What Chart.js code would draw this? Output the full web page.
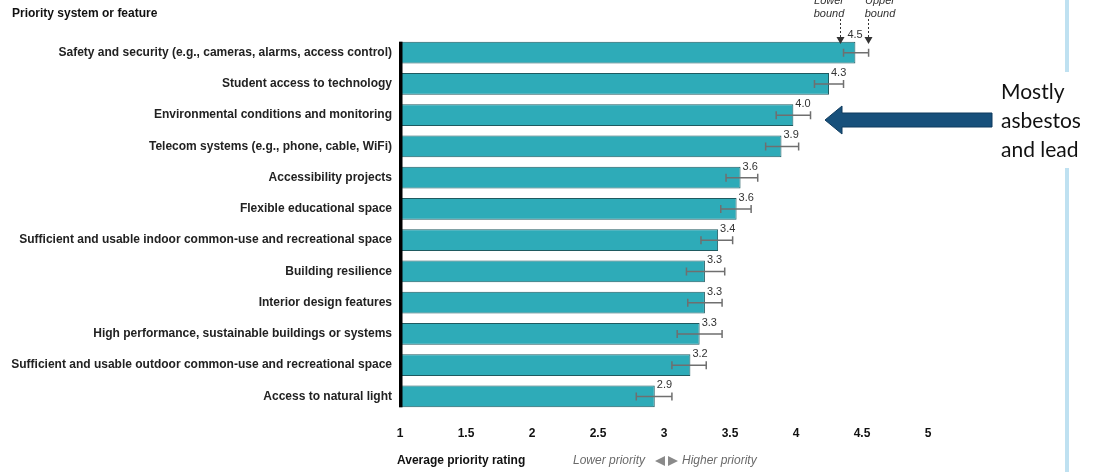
<!DOCTYPE html>
<html>
<head>
<meta charset="utf-8">
<script src="https://cdn.jsdelivr.net/npm/chart.js@4"></script>
<style>
  body { margin: 0; background: #fff; }
  #wrap { width: 1100px; height: 472px; position: relative; }
</style>
</head>
<body>
<div id="wrap"><canvas id="priorityChart" width="1100" height="472"></canvas></div>
<script>
// Priority features, top to bottom
const categories = [
  "Safety and security (e.g., cameras, alarms, access control)",
  "Student access to technology",
  "Environmental conditions and monitoring",
  "Telecom systems (e.g., phone, cable, WiFi)",
  "Accessibility projects",
  "Flexible educational space",
  "Sufficient and usable indoor common-use and recreational space",
  "Building resilience",
  "Interior design features",
  "High performance, sustainable buildings or systems",
  "Sufficient and usable outdoor common-use and recreational space",
  "Access to natural light",
];
const avgRating = [4.45, 4.25, 3.98, 3.89, 3.58, 3.55, 3.41, 3.31, 3.31, 3.27, 3.2, 2.93];
const lowerBound = [4.36, 4.14, 3.85, 3.77, 3.47, 3.43, 3.28, 3.17, 3.18, 3.1, 3.06, 2.79];
const upperBound = [4.55, 4.36, 4.11, 4.02, 3.71, 3.66, 3.52, 3.46, 3.44, 3.44, 3.32, 3.06];
const valueLabels = ["4.5", "4.3", "4.0", "3.9", "3.6", "3.6", "3.4", "3.3", "3.3", "3.3", "3.2", "2.9"];

const FONT = '"Liberation Sans", Arial, sans-serif';

// error bars, value labels, y axis line
const barExtras = {
  id: "barExtras",
  afterDatasetsDraw(chart) {
    const ctx = chart.ctx;
    const x = chart.scales.x;
    const bars = chart.getDatasetMeta(0).data;
    ctx.save();
    bars.forEach((bar, i) => {
      const y = bar.y;
      const x1 = x.getPixelForValue(lowerBound[i]);
      const x2 = x.getPixelForValue(upperBound[i]);
      ctx.strokeStyle = "#6f6f6f";
      ctx.lineWidth = 1.5;
      ctx.beginPath();
      ctx.moveTo(x1, y); ctx.lineTo(x2, y);
      ctx.moveTo(x1, y - 4); ctx.lineTo(x1, y + 4);
      ctx.moveTo(x2, y - 4); ctx.lineTo(x2, y + 4);
      ctx.stroke();

      ctx.fillStyle = "#333";
      ctx.font = "11px " + FONT;
      ctx.textAlign = "left";
      ctx.textBaseline = "middle";
      const top = y - bar.height / 2;
      // first label sits between the bound markers
      if (i === 0) ctx.fillText(valueLabels[i], bar.x - 8, top - 7);
      else ctx.fillText(valueLabels[i], bar.x + 2, top);
    });
    const first = bars[0], last = bars[bars.length - 1];
    ctx.fillStyle = "#000";
    ctx.fillRect(chart.chartArea.left - 1, first.y - first.height / 2, 3.5,
      last.y + last.height / 2 - (first.y - first.height / 2));
    ctx.restore();
  },
  afterDraw(chart) {
    const ctx = chart.ctx;
    ctx.save();
    ctx.fillStyle = "#111";
    ctx.textBaseline = "middle";
    ctx.textAlign = "left";
    ctx.font = "bold 12px " + FONT;
    ctx.fillText("Priority system or feature", 12, 14);
    ctx.fillText("Average priority rating", 397, 461);

    // lower / higher priority hint
    ctx.font = "italic 12px " + FONT;
    ctx.fillStyle = "#6a6a6a";
    ctx.fillText("Lower priority", 573, 461);
    ctx.fillText("Higher priority", 682, 461);
    ctx.fillStyle = "#8a8a8a";
    ctx.beginPath();
    ctx.moveTo(655, 461); ctx.lineTo(665, 456); ctx.lineTo(665, 466); ctx.closePath();
    ctx.moveTo(678, 461); ctx.lineTo(668, 456); ctx.lineTo(668, 466); ctx.closePath();
    ctx.fill();

    // lower/upper bound callouts
    ctx.font = "italic 11px " + FONT;
    ctx.fillStyle = "#333";
    ctx.textAlign = "center";
    ctx.textBaseline = "alphabetic";
    ctx.fillText("Lower", 829, 4);
    ctx.fillText("bound", 829, 17);
    ctx.fillText("Upper", 880, 4);
    ctx.fillText("bound", 880, 17);
    ctx.strokeStyle = "#333";
    ctx.lineWidth = 1;
    ctx.setLineDash([2, 2]);
    [840, 868].forEach(px => {
      ctx.beginPath();
      ctx.moveTo(px + 0.5, 19); ctx.lineTo(px + 0.5, 38);
      ctx.stroke();
    });
    ctx.setLineDash([]);
    [840, 868].forEach(px => {
      ctx.beginPath();
      ctx.moveTo(px - 3.5, 37); ctx.lineTo(px + 4.5, 37); ctx.lineTo(px + 0.5, 44);
      ctx.closePath();
      ctx.fill();
    });

    // slide border line
    ctx.fillStyle = "#bfe1f1";
    ctx.fillRect(1065, 0, 4, 72);
    ctx.fillRect(1065, 168, 4, 304);

    // callout arrow
    ctx.fillStyle = "#17507b";
    ctx.strokeStyle = "#0f3b5e";
    ctx.beginPath();
    ctx.moveTo(825, 120);
    ctx.lineTo(842, 106);
    ctx.lineTo(842, 113);
    ctx.lineTo(992, 113);
    ctx.lineTo(992, 127);
    ctx.lineTo(842, 127);
    ctx.lineTo(842, 134);
    ctx.closePath();
    ctx.fill();
    ctx.stroke();

    ctx.fillStyle = "#111";
    ctx.textAlign = "left";
    ctx.font = '21px Lato, "Open Sans", sans-serif';
    ctx.fillText("Mostly", 1001, 99);
    ctx.fillText("asbestos", 1001, 128);
    ctx.fillText("and lead", 1001, 157);
    ctx.restore();
  },
};

new Chart(document.getElementById("priorityChart"), {
  type: "bar",
  data: {
    labels: categories,
    datasets: [
      {
        data: avgRating,
        backgroundColor: "#2eabb8",
        borderColor: "#1f5a60",
        borderWidth: 1,
        categoryPercentage: 1,
        barPercentage: 0.7,
      },
    ],
  },
  options: {
    indexAxis: "y",
    responsive: false,
    animation: false,
    layout: { padding: { left: 0, right: 172, top: 37, bottom: 0 } },
    plugins: { legend: { display: false }, tooltip: { enabled: false } },
    scales: {
      x: {
        min: 1,
        max: 5,
        ticks: {
          stepSize: 0.5,
          padding: 14,
          color: "#111",
          font: { family: FONT, size: 12, weight: "bold" },
          callback: (v) => String(v),
        },
        grid: { display: false, drawTicks: false },
        border: { display: false },
        afterFit: (s) => { s.height = 60; },
      },
      y: {
        ticks: {
          padding: 8,
          color: "#222",
          font: { family: FONT, size: 12, weight: "bold" },
        },
        grid: { display: false, drawTicks: false },
        border: { display: false },
        afterFit: (s) => { s.width = 400; },
      },
    },
  },
  plugins: [barExtras],
});
</script>
</body>
</html>
